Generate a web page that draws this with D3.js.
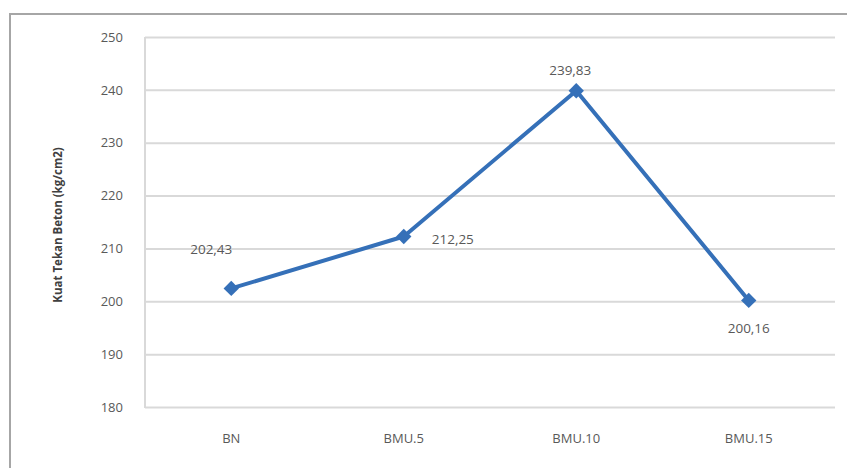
<!DOCTYPE html>
<html>
<head>
<meta charset="utf-8">
<script src="https://cdn.jsdelivr.net/npm/d3@7"></script>
<style>
  html, body { margin: 0; padding: 0; background: #fff; }
  svg { display: block; }
  text { font-family: "Open Sans", "Liberation Sans", sans-serif; }
</style>
</head>
<body>
<svg id="chart" width="847" height="468"></svg>
<script>
// Compressive strength of concrete per mix
const categories = ["BN", "BMU.5", "BMU.10", "BMU.15"];
const strength = [202.43, 212.25, 239.83, 200.16];
const valueLabels = ["202,43", "212,25", "239,83", "200,16"];
const yTicks = [180, 190, 200, 210, 220, 230, 240, 250];
const yTitle = "Kuat Tekan Beton (kg/cm2)";

const svg = d3.select("#chart");
const W = 847, H = 468;
const plot = { left: 145, right: 835, top: 37, bottom: 407 };

// Outer frame (only top and left edges fall inside the frame)
svg.append("rect")
  .attr("x", 10).attr("y", 14)
  .attr("width", W + 20).attr("height", H + 20)
  .attr("fill", "none").attr("stroke", "#a6a6a6").attr("stroke-width", 2);

const x = d3.scaleBand().domain(categories).range([plot.left, plot.right]);
const y = d3.scaleLinear().domain([180, 250]).range([plot.bottom, plot.top]);

// Horizontal gridlines
const yAxis = d3.axisLeft(y).tickValues(yTicks).tickSize(-(plot.right - plot.left)).tickPadding(22);
const gy = svg.append("g").attr("transform", `translate(${plot.left},0)`).call(yAxis);
gy.select(".domain").remove();
gy.selectAll(".tick line").attr("stroke", "#d9d9d9").attr("stroke-width", 2);
gy.selectAll(".tick text").attr("fill", "#595959").attr("font-size", 13);

// Vertical axis line
svg.append("line")
  .attr("x1", plot.left).attr("x2", plot.left)
  .attr("y1", plot.top).attr("y2", plot.bottom + 1)
  .attr("stroke", "#d9d9d9").attr("stroke-width", 2);

// Category axis
const xAxis = d3.axisBottom(x).tickSize(0).tickPadding(27);
const gx = svg.append("g").attr("transform", `translate(0,${plot.bottom})`).call(xAxis);
gx.select(".domain").remove();
gx.selectAll(".tick text").attr("fill", "#595959").attr("font-size", 13);

// Y axis title
svg.append("text")
  .attr("transform", `translate(62,${(plot.top + plot.bottom) / 2 + 3}) rotate(-90)`)
  .attr("text-anchor", "middle")
  .attr("font-size", 11.5)
  .attr("font-weight", "bold")
  .attr("fill", "#404040")
  .text(yTitle);

const cx = c => x(c) + x.bandwidth() / 2;
const pts = categories.map((c, i) => ({ c, v: strength[i], label: valueLabels[i] }));

// Series line
svg.append("path")
  .datum(pts)
  .attr("fill", "none")
  .attr("stroke", "#3570b8")
  .attr("stroke-width", 4)
  .attr("stroke-linejoin", "round")
  .attr("d", d3.line().x(d => cx(d.c)).y(d => y(d.v)));

// Diamond markers
svg.selectAll(".marker")
  .data(pts)
  .join("path")
  .attr("class", "marker")
  .attr("transform", d => `translate(${cx(d.c)},${y(d.v)})`)
  .attr("d", d3.symbol().type(d3.symbolDiamond2).size(150))
  .attr("fill", "#3570b8");

// Data labels
const labelOffsets = [
  { dx: -20, dy: -34, anchor: "middle" },
  { dx: 28, dy: 7, anchor: "start" },
  { dx: -6, dy: -16, anchor: "middle" },
  { dx: 0, dy: 33, anchor: "middle" }
];
svg.selectAll(".vlabel")
  .data(pts)
  .join("text")
  .attr("class", "vlabel")
  .attr("x", (d, i) => cx(d.c) + labelOffsets[i].dx)
  .attr("y", (d, i) => y(d.v) + labelOffsets[i].dy)
  .attr("text-anchor", (d, i) => labelOffsets[i].anchor)
  .attr("font-size", 13.5)
  .attr("fill", "#595959")
  .text(d => d.label);
</script>
</body>
</html>
